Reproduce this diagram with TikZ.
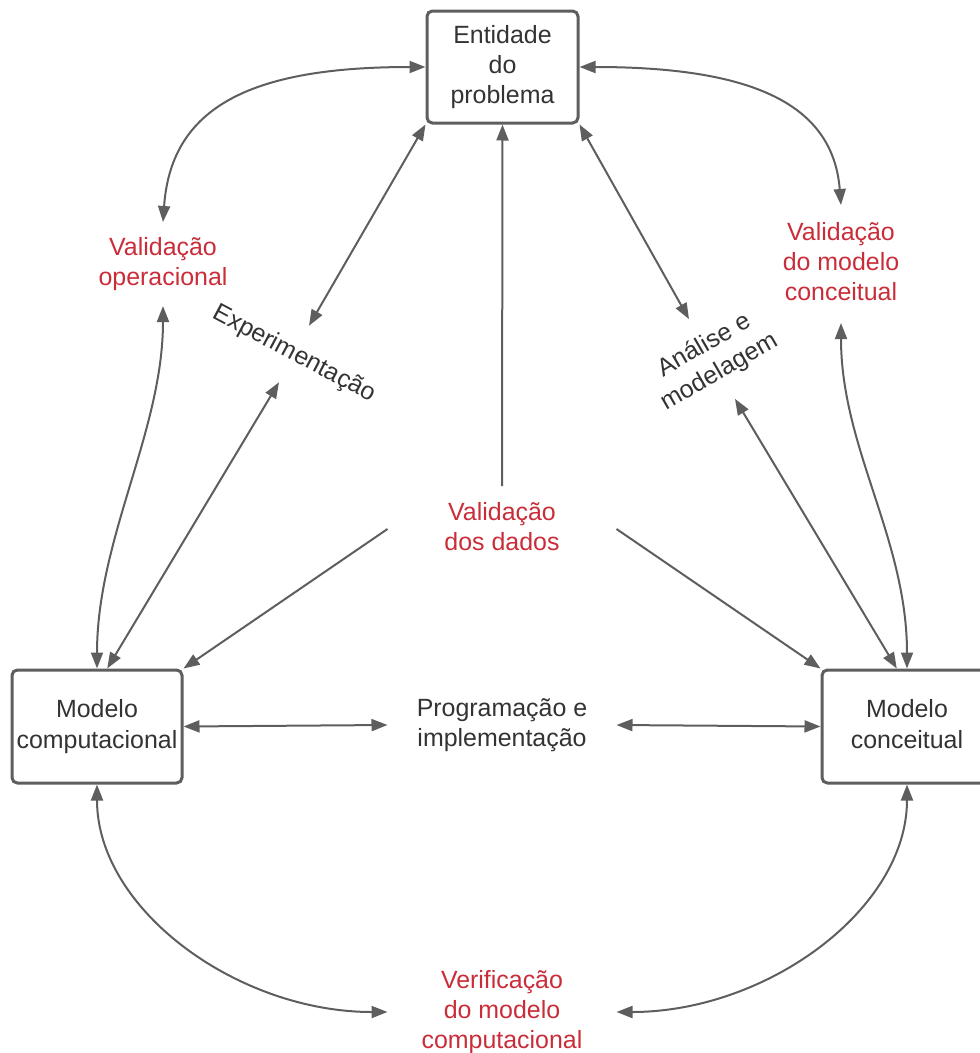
\documentclass[tikz,border=0pt]{standalone}
\usepackage{fontspec}
\setmainfont{Liberation Sans}
\usetikzlibrary{arrows.meta}

\definecolor{linegray}{RGB}{94,94,94}
\definecolor{txtgray}{RGB}{51,51,51}
\definecolor{valred}{RGB}{201,45,57}
\newcommand{\diagfont}{\fontsize{18.7}{22.8}\selectfont}

\tikzset{every picture/.style={line width=1.5pt}}
\tikzset{
    box/.style={draw=linegray, line width=2.25pt, rounded corners=4pt, fill=white, align=center, text=txtgray, font=\diagfont},
    lbl/.style={align=center, text=txtgray, inner sep=0pt, font=\diagfont},
    redlbl/.style={lbl, text=valred},
    conn/.style={draw=linegray, >={Triangle[length=12pt,width=9pt]}}
}

\begin{document}
\begin{tikzpicture}[x=0.75pt, y=-0.75pt]
        \useasboundingbox (0,0) rectangle (979,1053);
        % boxes
        \node[box, minimum width=113.25pt, minimum height=84pt] (ent) at (502.5,67) {Entidade\\do\\problema};
        \node[box, minimum width=127.5pt, minimum height=84.75pt] (comp) at (97,726.5) {Modelo\\computacional};
        \node[box, minimum width=127.5pt, minimum height=84.75pt] (conc) at (907,726.5) {Modelo\\conceitual\vphantom{p}};
        % labels
        \node[redlbl, minimum height=61.5pt] (valop) at (163,264) {Validação\\operacional};
        \node[redlbl, minimum height=87pt] (valconc) at (841,264) {Validação\\do modelo\\conceitual\vphantom{p}};
        \node[lbl, rotate=-28, minimum height=46.5pt] (exper) at (294,354) {Experimentação};
        \node[lbl, rotate=30, minimum height=67.5pt] (anal) at (712,359) {Análise e\\modelagem};
        \node[redlbl, minimum width=170.25pt, minimum height=63pt] (dados) at (502,529) {Validação\\dos dados\vphantom{p}};
        \node[lbl, minimum width=170.25pt] (prog) at (502,725) {Programação e\\implementação};
        \node[redlbl, minimum width=170.25pt] (verif) at (502,1012) {Verificação\\do modelo\\computacional};
        % curved validation arrows
        \draw[conn,<->] (valop.north) .. controls +(8,-115) and +(-175,0) .. (ent.west);
        \draw[conn,<->] (ent.east) .. controls +(175,0) and +(-8,-100) .. (valconc.north);
        \draw[conn,<->] (valop.south) .. controls +(0,125) and +(0,-130) .. (comp.north);
        \draw[conn,<->] (valconc.south) .. controls +(0,125) and +(0,-130) .. (conc.north);
        \draw[conn,<->] (comp.south) .. controls +(0,125) and +(-150,0) .. (verif.west);
        \draw[conn,<->] (conc.south) .. controls +(0,125) and +(150,0) .. (verif.east);
        % straight arrows
        \draw[conn,<->] (ent.south west) -- (exper.north);
        \draw[conn,<->] (exper.south) -- (comp.80);
        \draw[conn,<->] (ent.south east) -- (anal.north);
        \draw[conn,<->] (anal.south) -- (conc.100);
        \draw[conn,->] (dados.north) -- (ent.south);
        \draw[conn,->] (dados.west) -- (comp.north east);
        \draw[conn,->] (dados.east) -- (conc.north west);
        \draw[conn,<->] (comp.east) -- (prog.west);
        \draw[conn,<->] (prog.east) -- (conc.west);
    \end{tikzpicture}
\end{document}
